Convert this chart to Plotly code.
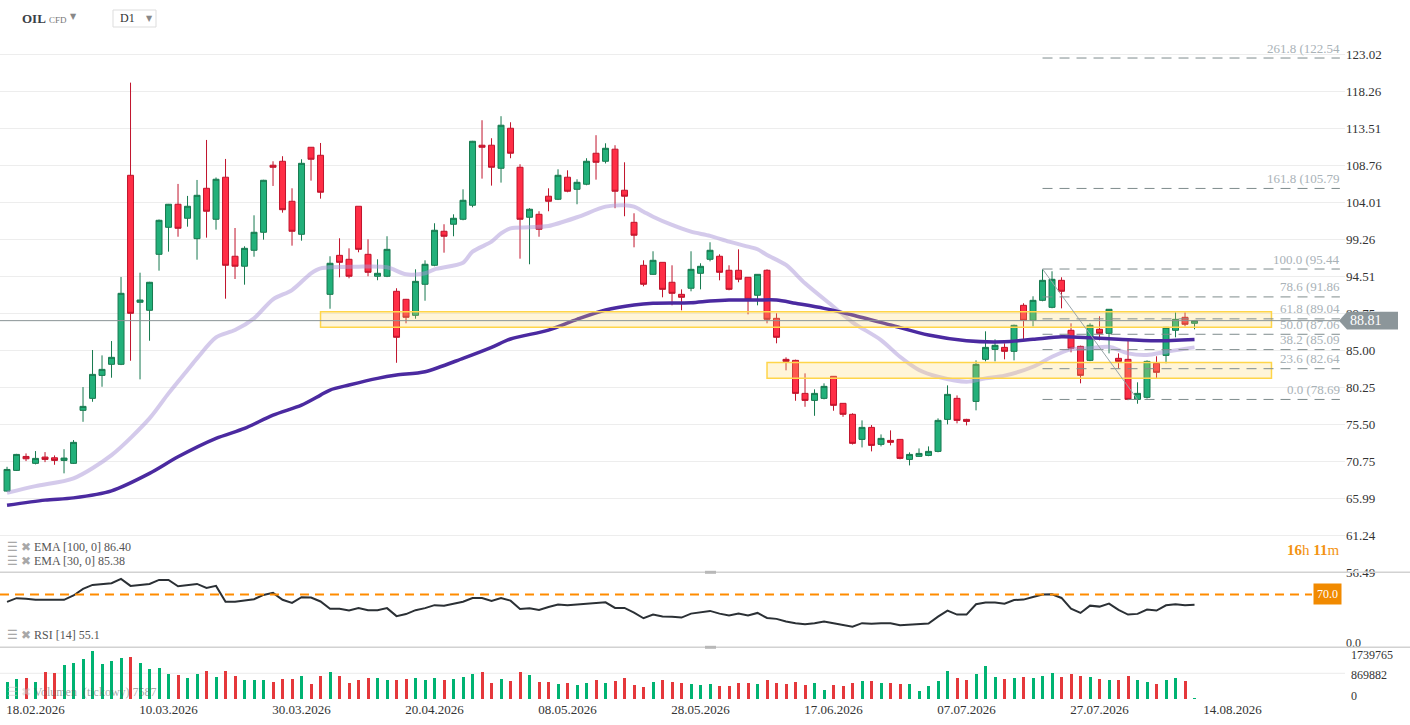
import plotly.graph_objects as go

# OIL CFD, daily candles
opens = [66.92, 69.58, 71.37, 70.48, 71.29, 71.20, 70.86, 70.48, 77.29, 78.83,
         81.78, 83.20, 83.20, 107.48, 91.17, 90.14, 97.33, 100.80, 103.76, 101.96,
         99.34, 105.81, 101.83, 107.23, 97.08, 95.80, 97.85, 100.16, 108.77, 109.28,
         104.14, 99.90, 111.08, 110.05, 92.19, 97.20, 96.69, 103.50, 97.33, 94.51,
         94.51, 92.58, 91.55, 89.49, 93.48, 95.92, 100.29, 101.19, 101.83, 103.63,
         111.34, 111.34, 108.38, 113.52, 108.51, 102.09, 102.47, 104.79, 104.40, 107.23,
         105.68, 106.33, 110.31, 109.28, 110.83, 105.56, 101.44, 95.92, 94.76, 96.30,
         93.74, 92.19, 92.97, 94.89, 96.69, 97.08, 95.28, 95.28, 94.38, 92.07,
         95.28, 89.11, 83.84, 83.71, 79.47, 78.57, 78.83, 81.66, 78.19, 76.78,
         73.56, 75.10, 72.92, 73.43, 73.56, 70.99, 71.38, 71.50, 72.02, 76.13,
         78.83, 76.13, 78.44, 83.84, 85.12, 85.38, 84.87, 90.78, 88.85, 91.42,
         90.52, 93.99, 87.57, 85.51, 83.71, 87.70, 87.18, 83.97, 83.84, 78.70,
         78.96, 83.33, 84.35, 87.57, 89.24, 88.47]
highs = [70.04, 71.70, 71.76, 72.06, 71.93, 71.50, 72.30, 73.47, 80.28, 85.04,
         84.35, 86.19, 94.42, 119.38, 94.97, 93.80, 101.80, 103.80, 106.37, 104.83,
         106.88, 112.02, 107.20, 109.58, 100.71, 98.36, 102.34, 106.90, 109.28, 109.93,
         105.81, 109.54, 111.10, 111.63, 97.08, 99.39, 98.10, 103.50, 99.26, 96.69,
         99.65, 92.97, 91.60, 95.40, 96.56, 101.32, 101.19, 102.47, 105.68, 111.90,
         114.55, 112.24, 115.07, 114.29, 108.90, 103.25, 102.86, 105.81, 108.25, 108.12,
         106.97, 109.67, 112.63, 111.59, 111.34, 109.15, 102.60, 96.56, 97.72, 96.30,
         95.92, 92.83, 97.72, 96.18, 98.88, 97.33, 95.92, 97.97, 94.40, 94.80,
         95.40, 89.75, 84.10, 83.80, 82.04, 79.99, 80.76, 81.70, 78.20, 76.91,
         76.00, 75.40, 74.20, 74.72, 73.60, 71.89, 72.40, 72.66, 76.26, 80.50,
         79.21, 76.20, 83.71, 87.44, 86.41, 85.90, 88.30, 91.04, 91.94, 95.44,
         95.15, 94.38, 88.47, 85.60, 88.47, 89.37, 90.30, 84.61, 86.41, 80.89,
         83.71, 84.23, 88.00, 89.88, 89.88, 88.90]
lows = [66.85, 69.50, 70.77, 70.35, 70.64, 70.30, 69.20, 70.40, 75.82, 78.39,
        80.32, 81.48, 83.10, 83.66, 81.27, 86.23, 95.23, 97.67, 99.59, 100.88,
        96.64, 99.47, 100.50, 91.63, 94.16, 93.43, 97.02, 99.21, 106.11, 102.68,
        98.44, 99.08, 106.79, 104.48, 90.34, 94.38, 94.25, 97.59, 94.51, 94.00,
        94.40, 83.40, 88.47, 89.06, 91.37, 95.80, 97.54, 99.65, 101.70, 103.37,
        107.05, 106.15, 106.54, 109.67, 96.77, 96.05, 99.59, 102.86, 104.30, 105.30,
        103.76, 106.20, 106.92, 109.00, 103.25, 102.22, 98.23, 93.22, 94.70, 91.81,
        90.78, 90.14, 92.58, 92.83, 96.43, 93.99, 92.71, 93.74, 89.62, 90.78,
        88.47, 85.90, 82.43, 78.52, 77.75, 76.59, 78.70, 77.24, 76.46, 72.90,
        72.53, 72.02, 72.66, 72.79, 71.00, 70.22, 71.30, 71.40, 71.90, 75.49,
        75.62, 75.36, 77.29, 83.58, 83.58, 83.84, 83.71, 86.41, 88.08, 91.30,
        90.40, 90.39, 84.74, 80.76, 83.60, 86.28, 84.61, 82.68, 78.60, 78.14,
        78.80, 81.40, 83.33, 86.67, 88.08, 87.70]
closes = [69.70, 71.63, 71.07, 71.12, 70.99, 70.86, 71.16, 73.18, 77.80, 81.91,
          82.55, 84.10, 92.32, 89.75, 91.46, 93.74, 101.70, 103.76, 100.67, 103.50,
          104.91, 102.86, 106.97, 95.92, 95.80, 98.10, 100.16, 106.84, 108.51, 103.06,
          100.29, 109.02, 109.54, 105.30, 96.18, 96.30, 94.51, 97.97, 95.02, 94.89,
          97.97, 86.67, 89.24, 93.86, 96.05, 100.42, 99.65, 101.96, 104.27, 111.85,
          111.08, 108.51, 113.91, 110.31, 101.83, 103.12, 100.55, 104.14, 107.48, 105.43,
          106.58, 109.28, 109.15, 110.95, 105.43, 104.79, 99.78, 93.48, 96.56, 92.83,
          92.32, 91.81, 95.40, 95.79, 97.85, 95.02, 92.83, 94.12, 91.55, 94.76,
          88.98, 86.67, 83.58, 79.47, 78.57, 79.47, 80.37, 77.93, 76.78, 73.05,
          75.10, 72.79, 73.69, 73.18, 71.12, 71.63, 71.76, 72.02, 76.00, 79.34,
          76.00, 75.87, 83.20, 85.38, 85.64, 84.87, 88.21, 88.85, 91.42, 93.99,
          94.12, 92.58, 85.26, 81.78, 88.21, 87.18, 90.27, 83.58, 78.70, 79.47,
          83.58, 82.17, 87.95, 88.98, 88.34, 88.81]
volumes = [575000, 677000, 711000, 575000, 914000, 880000, 1151000, 1219000, 1354000, 1625000,
           1185000, 1286000, 1388000, 1422000, 1219000, 1016000, 1049000, 846000, 812000, 711000,
           846000, 948000, 745000, 948000, 779000, 643000, 643000, 643000, 575000, 677000,
           677000, 779000, 508000, 779000, 914000, 779000, 542000, 643000, 711000, 711000,
           643000, 643000, 677000, 711000, 643000, 711000, 643000, 677000, 745000, 846000,
           914000, 542000, 677000, 609000, 914000, 812000, 575000, 575000, 508000, 542000,
           474000, 542000, 643000, 542000, 609000, 711000, 474000, 406000, 575000, 643000,
           575000, 542000, 508000, 474000, 508000, 440000, 440000, 542000, 542000, 508000,
           643000, 542000, 508000, 575000, 474000, 542000, 305000, 474000, 440000, 542000,
           609000, 609000, 542000, 542000, 508000, 508000, 271000, 440000, 609000, 948000,
           711000, 643000, 846000, 1117000, 745000, 677000, 711000, 745000, 711000, 779000,
           880000, 745000, 846000, 779000, 745000, 677000, 643000, 643000, 779000, 643000,
           575000, 508000, 643000, 711000, 609000, 7587]
rsi_values = [59.4, 64.7, 63.7, 62.3, 62.3, 62.3, 62.3, 68.6, 78.0, 83.8,
              84.8, 86.2, 92.4, 82.4, 83.8, 85.2, 91.0, 91.0, 81.9, 83.8,
              85.2, 79.5, 82.4, 59.4, 59.4, 61.4, 63.2, 69.4, 72.3, 62.3,
              57.9, 66.1, 65.7, 59.9, 49.3, 49.3, 47.0, 50.3, 47.4, 47.4,
              50.3, 38.8, 41.7, 47.4, 50.3, 54.6, 53.6, 56.5, 59.6, 65.0,
              65.0, 60.6, 65.0, 61.1, 49.2, 50.1, 47.7, 52.0, 55.4, 54.4,
              55.4, 57.3, 57.8, 58.7, 50.6, 50.6, 43.9, 35.7, 41.0, 38.1,
              37.7, 36.7, 42.4, 43.9, 46.3, 42.4, 39.6, 42.4, 39.6, 43.4,
              36.2, 34.8, 31.0, 28.6, 27.1, 28.6, 31.0, 28.6, 26.6, 23.6,
              28.6, 27.6, 28.6, 28.6, 25.7, 26.6, 26.6, 28.1, 38.1, 46.8,
              41.0, 41.0, 55.9, 58.3, 58.3, 56.8, 62.1, 62.6, 66.4, 69.8,
              70.2, 65.0, 49.6, 43.4, 53.9, 52.5, 56.8, 47.7, 41.0, 42.0,
              48.2, 46.8, 54.4, 55.9, 54.4, 55.1]

# EMA lines, read at selected days
ema30_days = [0, 3, 7, 11, 15, 17, 19, 20, 22, 24, 26, 28, 30, 32, 33, 37, 40, 42, 44, 45,
              48, 49, 51, 52, 53, 55, 57, 60, 63, 65, 66, 67, 68, 70, 72, 74, 76, 78, 79, 80,
              82, 84, 87, 89, 92, 94, 96, 98, 101, 103, 105, 108, 110, 112, 114, 116, 118,
              120, 122, 125]
ema30_values = [66.7, 67.56, 68.55, 71.54, 76.26, 79.47, 82.47, 83.97, 86.67, 87.6,
                89.11, 91.55, 92.74, 94.89, 95.53, 95.74, 95.66, 94.76, 94.89, 95.4,
                96.25, 97.67, 98.95, 100.03, 100.67, 100.8, 100.97, 102.09, 103.45, 103.63,
                103.45, 102.81, 102.16, 101.1, 100.24, 99.7, 98.95, 98.31, 97.98, 97.24,
                95.96, 93.61, 90.6, 88.6, 86.32, 84.17, 82.47, 81.6, 80.96, 81.4,
                81.75, 82.89, 84.17, 85.12, 85.26, 85.46, 84.61, 84.4, 84.82, 85.38]
ema100_days = [0, 4, 7, 11, 15, 18, 22, 25, 28, 31, 33, 34, 36, 39, 41, 44, 48, 51, 53, 57,
               60, 63, 66, 68, 72, 74, 76, 79, 81, 83, 86, 89, 93, 97, 101, 105, 108, 111,
               114, 117, 121, 125]
ema100_values = [65.1, 65.76, 66.05, 66.95, 69.19, 71.32, 73.69, 74.97, 76.68, 77.97,
                 79.25, 79.9, 80.54, 81.4, 81.82, 82.25, 83.97, 85.38, 86.45, 87.6,
                 88.98, 90.18, 90.82, 91.04, 91.11, 91.33, 91.46, 91.46, 91.46, 91.04,
                 90.39, 89.53, 88.25, 86.96, 86.23, 86.1, 86.41, 86.75, 86.62, 86.41,
                 86.23, 86.40]

date_ticks = [3, 17, 31, 45, 59, 73, 87, 101, 115, 129]
date_labels = ["18.02.2026", "10.03.2026", "30.03.2026", "20.04.2026", "08.05.2026",
               "28.05.2026", "17.06.2026", "07.07.2026", "27.07.2026", "14.08.2026"]
price_ticks = [123.02, 118.26, 113.51, 108.76, 104.01, 99.26, 94.51, 89.75, 85.00,
               80.25, 75.50, 70.75, 65.99, 61.24, 56.49]

fib_ratios = ["261.8", "161.8", "100.0", "78.6", "61.8", "50.0", "38.2", "23.6", "0.0"]
fib_prices = [122.54, 105.79, 95.44, 91.86, 89.04, 87.06, 85.09, 82.64, 78.69]
fib_start_day = 109
fib_end_day = 119

zone_start_days = [33, 80]
zone_end_days = [133.1, 133.1]
zone_lows = [87.95, 81.40]
zone_highs = [89.95, 83.45]

last_price = 88.81
rsi_level = 70.0
volume_ticks = [1739765, 869882, 0]

days = list(range(len(closes)))
vol_colors = ["#00b372" if c >= o else "#e5383b" for o, c in zip(opens, closes)]

FONT = "Liberation Serif"
PLOT_W = 1345


def px(xp):
    return xp / PLOT_W


def py(yp):
    return (700 - yp) / 670


fig = go.Figure()

fig.add_trace(go.Candlestick(
    x=days, open=opens, high=highs, low=lows, close=closes,
    increasing=dict(line=dict(color="#17794f", width=1), fillcolor="#22b07a"),
    decreasing=dict(line=dict(color="#c0142c", width=1), fillcolor="#ff2e46"),
    whiskerwidth=0, showlegend=False, hoverinfo="skip",
    xaxis="x", yaxis="y"))

fig.add_trace(go.Scatter(
    x=ema30_days, y=ema30_values, mode="lines",
    line=dict(color="rgba(170,150,215,0.5)", width=4, shape="spline", smoothing=0.8),
    showlegend=False, hoverinfo="skip", xaxis="x", yaxis="y"))
fig.add_trace(go.Scatter(
    x=ema100_days, y=ema100_values, mode="lines",
    line=dict(color="#4b2aa0", width=3.5, shape="spline", smoothing=0.8),
    showlegend=False, hoverinfo="skip", xaxis="x", yaxis="y"))

fig.add_trace(go.Scatter(
    x=days, y=rsi_values, mode="lines",
    line=dict(color="#2b3035", width=2),
    showlegend=False, hoverinfo="skip", xaxis="x", yaxis="y2"))

fig.add_trace(go.Bar(
    x=days, y=volumes, marker=dict(color=vol_colors, line=dict(width=0)),
    width=0.32, showlegend=False, hoverinfo="skip", xaxis="x", yaxis="y3"))

shapes = []
# support / resistance zones
for x0, x1, lo, hi in zip(zone_start_days, zone_end_days, zone_lows, zone_highs):
    shapes.append(dict(type="rect", xref="x", yref="y", x0=x0, x1=x1, y0=lo, y1=hi,
                       fillcolor="rgba(255,214,102,0.25)",
                       line=dict(color="#ffd54a", width=1.5), layer="above"))
# fibonacci levels
for p in fib_prices:
    shapes.append(dict(type="line", xref="x", yref="y", x0=fib_start_day, x1=140.3, y0=p, y1=p,
                       line=dict(color="#7f8c8d", width=1, dash="10px,7px"), layer="above"))
shapes.append(dict(type="line", xref="x", yref="y", x0=fib_start_day, x1=fib_end_day,
                   y0=fib_prices[2], y1=fib_prices[-1],
                   line=dict(color="#9aa5a8", width=1), layer="above"))
# last price line
shapes.append(dict(type="line", xref="paper", yref="y", x0=0, x1=px(1340),
                   y0=last_price, y1=last_price,
                   line=dict(color="#8a9396", width=1), layer="above"))
shapes.append(dict(type="path", xref="paper", yref="y",
                   path="M %f,%f L %f,%f L %f,%f L %f,%f L %f,%f Z" % (
                       px(1339), last_price, px(1347), last_price + 1.15, px(1398), last_price + 1.15,
                       px(1398), last_price - 1.15, px(1347), last_price - 1.15),
                   fillcolor="#8c969a", line=dict(width=0), layer="above"))
# rsi 70 line
shapes.append(dict(type="line", xref="paper", yref="y2", x0=0, x1=px(1312), y0=rsi_level, y1=rsi_level,
                   line=dict(color="#ff8c00", width=2, dash="9px,6px"), layer="above"))
# volume grid line
shapes.append(dict(type="line", xref="paper", yref="y3", x0=0, x1=1, y0=volume_ticks[1], y1=volume_ticks[1],
                   line=dict(color="#ececec", width=1), layer="below"))
# pane separators and handles
for sy in [572.3, 647.3]:
    shapes.append(dict(type="line", xref="paper", yref="paper", x0=0, x1=px(1410), y0=py(sy), y1=py(sy),
                       line=dict(color="#d2d2d2", width=1.5), layer="above"))
    shapes.append(dict(type="rect", xref="paper", yref="paper", x0=px(705), x1=px(716),
                       y0=py(sy + 1.5), y1=py(sy - 1.5),
                       fillcolor="#b8b8b8", line=dict(width=0), layer="above"))
# timeframe box
shapes.append(dict(type="rect", xref="paper", yref="paper", x0=px(113), x1=px(156), y0=py(27), y1=py(10),
                   line=dict(color="#dddddd", width=1), fillcolor="white"))

ann = []
for r, p in zip(fib_ratios, fib_prices):
    ann.append(dict(xref="x", yref="y", x=140.5, y=p, yshift=10, text="%s (%.2f" % (r, p),
                    xanchor="right", yanchor="middle", showarrow=False,
                    font=dict(family=FONT, size=13, color="#a9b2b7")))
ann.append(dict(xref="paper", yref="y", x=px(1348), y=last_price, text="88.81", xanchor="left",
                yanchor="middle", showarrow=False, font=dict(family=FONT, size=14, color="white")))
ann.append(dict(xref="paper", yref="y2", x=px(1342), y=rsi_level, text="70.0", xanchor="right",
                yanchor="middle", showarrow=False, bgcolor="#f18a00", borderpad=3,
                font=dict(family=FONT, size=12, color="white")))
for v, yp in zip(volume_ticks, [655, 675, 696]):
    ann.append(dict(xref="paper", yref="paper", x=px(1349), y=py(yp), text=str(v), xanchor="left",
                    yanchor="middle", showarrow=False, font=dict(family=FONT, size=12, color="#333")))

legend_lines = [("EMA [100, 0] 86.40", 547), ("EMA [30, 0] 85.38", 561), ("RSI [14] 55.1", 635)]
for txt, yp in legend_lines:
    ann.append(dict(xref="paper", yref="paper", x=px(5), y=py(yp), xanchor="left", yanchor="middle",
                    text='<span style="color:#a8a8a8">☰ ✖</span> ' + txt, showarrow=False,
                    font=dict(family=FONT, size=12, color="#555")))
ann.append(dict(xref="paper", yref="paper", x=px(5), y=py(692), xanchor="left", yanchor="middle",
                text='<span style="color:#c8c8c8">☰ ✖</span> Volumen  (tickowy) 7587', showarrow=False,
                font=dict(family=FONT, size=12, color="rgba(90,90,90,0.55)")))

ann.append(dict(xref="paper", yref="paper", x=px(1341), y=py(550), xanchor="right", yanchor="middle",
                text="<b>16</b>h <b>11</b>m", showarrow=False,
                font=dict(family=FONT, size=15, color="#f39312")))

ann.append(dict(xref="paper", yref="paper", x=px(20), y=py(18), xanchor="left", yanchor="middle",
                text='<b>OIL</b> <span style="font-size:9px;color:#777">CFD</span>', showarrow=False,
                font=dict(family=FONT, size=13, color="#3a4046")))
ann.append(dict(xref="paper", yref="paper", x=px(73), y=py(17), xanchor="center", yanchor="middle",
                text="▼", showarrow=False, font=dict(family="DejaVu Sans", size=8, color="#888")))
ann.append(dict(xref="paper", yref="paper", x=px(118), y=py(18.5), xanchor="left", yanchor="middle",
                text="D1", showarrow=False, font=dict(family=FONT, size=12, color="#333")))
ann.append(dict(xref="paper", yref="paper", x=px(149), y=py(18), xanchor="center", yanchor="middle",
                text="▼", showarrow=False, font=dict(family="DejaVu Sans", size=8, color="#888")))

fig.update_layout(
    width=1410, height=725,
    margin=dict(l=0, r=65, t=30, b=25),
    paper_bgcolor="white", plot_bgcolor="white",
    boxgap=0.1, boxgroupgap=0.3, bargap=0,
    showlegend=False,
    font=dict(family=FONT, size=13, color="#333"),
    xaxis=dict(domain=[0, 1], anchor="y3", range=[-0.74, 140.84], showgrid=False, zeroline=False,
               tickmode="array", tickvals=date_ticks, ticktext=date_labels, ticks="",
               rangeslider=dict(visible=False), showline=False,
               tickfont=dict(family=FONT, size=13, color="#333")),
    yaxis=dict(domain=[py(572.3), 1], anchor="x", side="right", range=[56.49, 126.14],
               tickmode="array", tickvals=price_ticks, ticktext=["%.2f" % t for t in price_ticks],
               showgrid=True, gridcolor="#ededed", gridwidth=1, zeroline=False, ticks="",
               tickfont=dict(family=FONT, size=13, color="#333")),
    yaxis2=dict(domain=[py(647.3), py(572.3)], anchor="x", side="right", range=[-6.2, 102.0],
                tickmode="array", tickvals=[0], ticktext=["0.0"], showgrid=False, zeroline=False,
                ticks="", tickfont=dict(family=FONT, size=12, color="#333")),
    yaxis3=dict(domain=[0, py(647.3)], anchor="x", side="right", range=[-34000, 1750000],
                showticklabels=False, showgrid=False, zeroline=False, ticks=""),
    shapes=shapes,
    annotations=ann,
)

# page body has a default 8px margin; drop it so the chart fills the window
fig.write_html("out.html", config={"displayModeBar": False},
               post_script="document.body.style.margin='0';")
